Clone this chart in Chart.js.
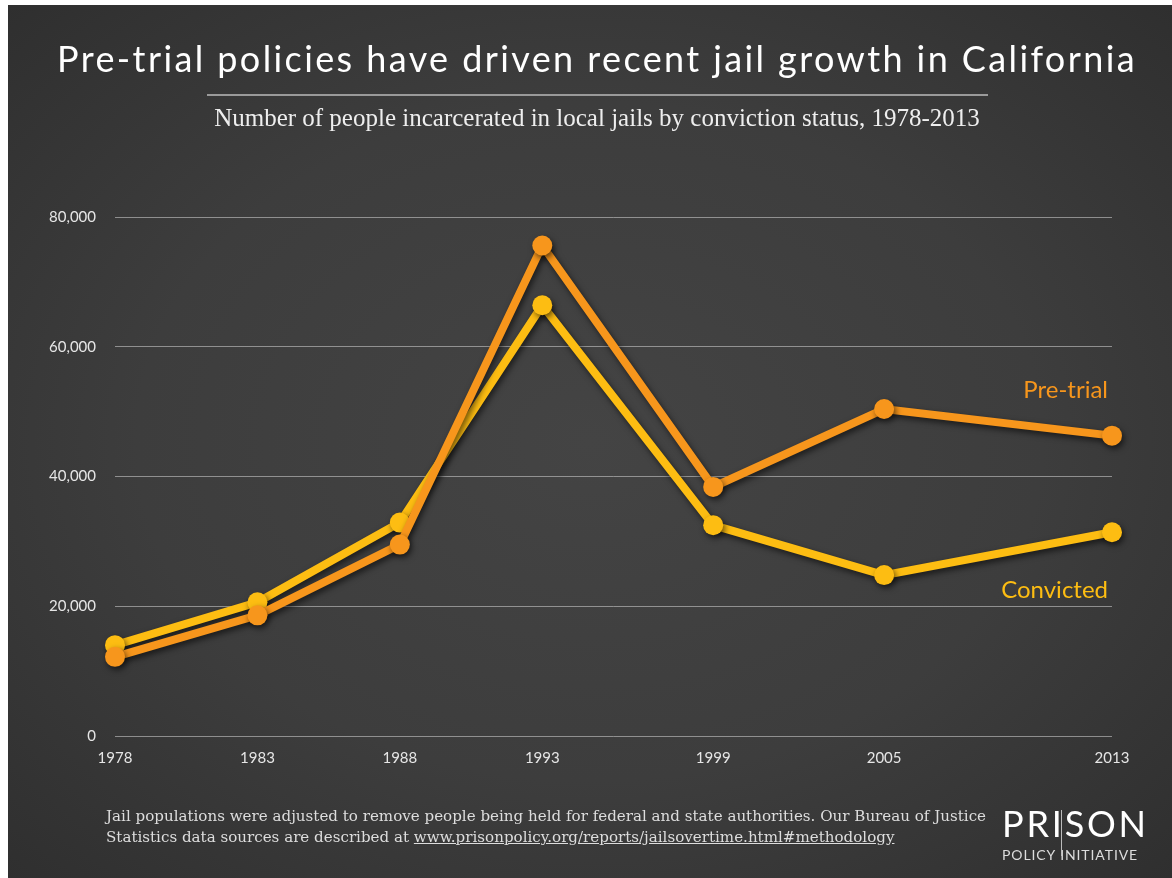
<!DOCTYPE html>
<html>
<head>
<meta charset="utf-8">
<script src="https://cdn.jsdelivr.net/npm/chart.js@4"></script>
<style>
  html, body { margin: 0; padding: 0; }
  body {
    width: 1172px; height: 878px; overflow: hidden; position: relative;
    background: #fff;
  }
  #panel {
    position: absolute; left: 8px; top: 5px; right: 0; bottom: 0;
    background: radial-gradient(ellipse at 50% 50%, #444 0%, #3d3d3d 55%, #2f2f2f 100%);
  }
  #chart { position: absolute; left: 0; top: 0; }
  .title {
    position: absolute; left: 0; width: 1194px; top: 36px; text-align: center;
    font-family: Lato, sans-serif; font-size: 36px; letter-spacing: 2.4px; color: #fff;
  }
  .rule { position: absolute; left: 207px; width: 781px; top: 94px; height: 2px; background: #9a9a9a; }
  .subtitle {
    position: absolute; left: 0; width: 1194px; top: 104px; text-align: center;
    font-family: "Liberation Serif", serif; font-size: 25px; color: #eee;
  }
  .note {
    position: absolute; left: 106px; top: 806px;
    font-family: "DejaVu Serif", serif; font-size: 15.1px; line-height: 21px; color: #ddd;
  }
  .note u { text-decoration: underline; }
  .logo { position: absolute; left: 1002px; top: 803px; width: 142px; color: #fff; font-family: Lato, sans-serif; }
  .logo .big { font-size: 36px; letter-spacing: 2.8px; line-height: 40px; }
  .logo .small { font-size: 14px; letter-spacing: 0.9px; color: #ddd; margin-top: 3px; }
  .logo .bar { position: absolute; left: 59px; top: 7px; width: 1px; height: 46px; background: #bbb; }
</style>
</head>
<body>
<div id="panel"></div>
<canvas id="chart" width="1172" height="878"></canvas>
<div class="title">Pre-trial policies have driven recent jail growth in California</div>
<div class="rule"></div>
<div class="subtitle">Number of people incarcerated in local jails by conviction status, 1978-2013</div>
<div class="note">Jail populations were adjusted to remove people being held for federal and state authorities. Our Bureau of Justice<br>Statistics data sources are described at <u>www.prisonpolicy.org/reports/jailsovertime.html#methodology</u></div>
<div class="logo"><div class="bar"></div><div class="big">PRISON</div><div class="small">POLICY INITIATIVE</div></div>
<script>
const years = [1978, 1983, 1988, 1993, 1999, 2005, 2013];
const pretrial = [12200, 18600, 29500, 75600, 38400, 50400, 46300];
const convicted = [14000, 20600, 32900, 66400, 32500, 24800, 31400];
const yTicks = [0, 20000, 40000, 60000, 80000];

const ORANGE = '#f7961c';
const YELLOW = '#fdbd12';

// soft drop shadow under the lines and dots
const shadow = {
  id: 'shadow',
  beforeDatasetsDraw(chart) {
    const c = chart.ctx;
    c.save();
    c.shadowColor = 'rgba(0,0,0,0.6)';
    c.shadowBlur = 6;
    c.shadowOffsetX = 2;
    c.shadowOffsetY = 3;
  },
  afterDatasetsDraw(chart) {
    chart.ctx.restore();
  }
};

// series names next to the last point of each line
const endLabels = {
  id: 'endLabels',
  afterDatasetsDraw(chart) {
    const c = chart.ctx;
    c.save();
    c.font = '24px Lato, sans-serif';
    c.textAlign = 'right';
    c.textBaseline = 'middle';
    const offs = [-45, 58];
    chart.data.datasets.forEach((ds, i) => {
      const pts = chart.getDatasetMeta(i).data;
      const p = pts[pts.length - 1];
      c.fillStyle = ds.borderColor;
      c.fillText(ds.label, p.x - 4, p.y + offs[i]);
    });
    c.restore();
  }
};

const lineStyle = (color) => ({
  borderColor: color,
  backgroundColor: color,
  borderWidth: 8,
  pointRadius: 10,
  pointHoverRadius: 10,
  pointBorderWidth: 0,
  clip: false
});

new Chart(document.getElementById('chart'), {
  type: 'line',
  data: {
    datasets: [
      Object.assign({ label: 'Pre-trial', data: years.map((y, i) => ({ x: y, y: pretrial[i] })) }, lineStyle(ORANGE)),
      Object.assign({ label: 'Convicted', data: years.map((y, i) => ({ x: y, y: convicted[i] })) }, lineStyle(YELLOW))
    ]
  },
  options: {
    responsive: false,
    animation: false,
    layout: { padding: { left: 0, right: 60, top: 217, bottom: 0 } },
    plugins: {
      legend: { display: false },
      tooltip: { enabled: false }
    },
    scales: {
      x: {
        type: 'linear',
        min: 1978,
        max: 2013,
        afterBuildTicks: (s) => { s.ticks = years.map(v => ({ value: v })); },
        afterFit: (s) => { s.height = 142; },
        grid: { display: false, drawTicks: false },
        border: { display: false },
        ticks: {
          color: '#e6e6e6',
          font: { family: 'Lato', size: 15 },
          padding: 13,
          maxRotation: 0,
          autoSkip: false,
          callback: (v) => String(v)
        }
      },
      y: {
        min: 0,
        max: 80000,
        afterBuildTicks: (s) => { s.ticks = yTicks.map(v => ({ value: v })); },
        afterFit: (s) => { s.width = 115; },
        grid: { color: 'rgba(200,200,200,0.6)', lineWidth: 1, drawTicks: false },
        border: { display: false },
        ticks: {
          color: '#e6e6e6',
          font: { family: 'Lato', size: 15 },
          padding: 19,
          callback: (v) => v.toLocaleString('en-US')
        }
      }
    }
  },
  plugins: [shadow, endLabels]
});
</script>
</body>
</html>
